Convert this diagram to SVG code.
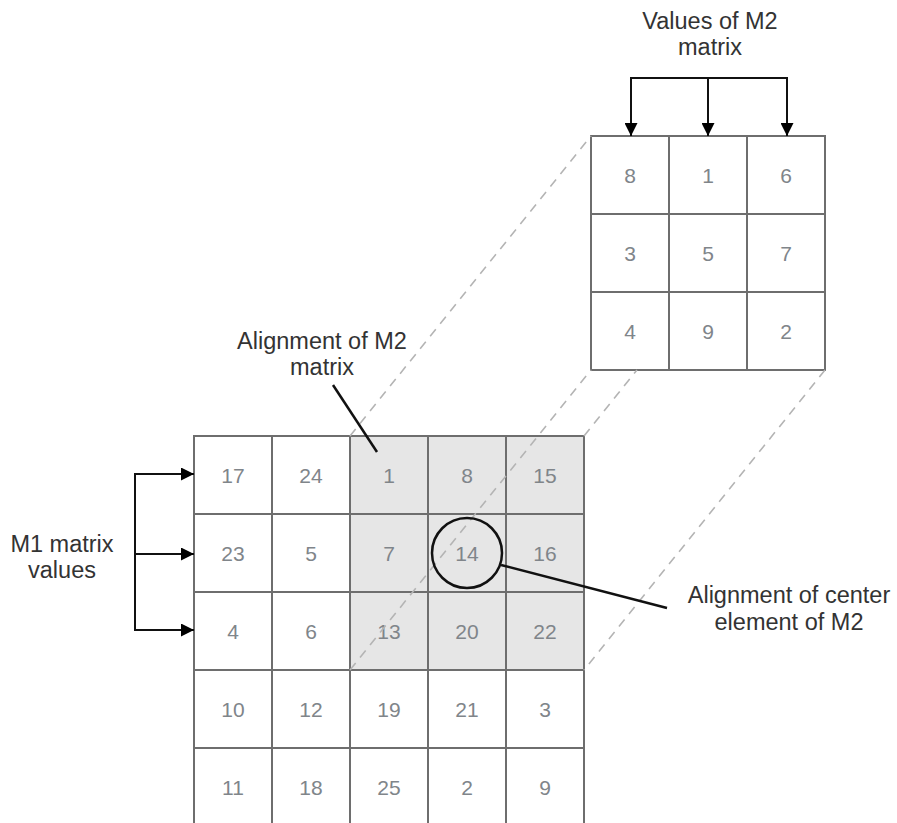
<svg xmlns="http://www.w3.org/2000/svg" width="897" height="823" viewBox="0 0 897 823">
<defs>
<marker id="ah" viewBox="0 0 13 13" refX="13" refY="6.5" markerWidth="13" markerHeight="13" markerUnits="userSpaceOnUse" orient="auto">
<path d="M0,0 L13,6.5 L0,13 Z" fill="#000"/>
</marker>
<style>
.cell{fill:#fff;stroke:#6e6e6e;stroke-width:2}
.sh{fill:#e6e6e6;stroke:#6e6e6e;stroke-width:2}
.num{font-family:"Liberation Sans",Arial,sans-serif;font-size:21px;fill:#80858a;text-anchor:middle}
.lbl{font-family:"Liberation Sans",Arial,sans-serif;font-size:23.5px;fill:#333;text-anchor:middle}
.dash{stroke:#b4b4b4;stroke-width:1.6;stroke-dasharray:9 7;fill:none}
.arr{stroke:#111;stroke-width:2;fill:none}
.ptr{stroke:#111;stroke-width:2.5;fill:none}
</style>
</defs>
<rect width="897" height="823" fill="#fff"/>

<g id="m1">
<g id="m1-r0c0"><rect class="cell" x="194" y="436" width="78" height="78"/><text class="num" x="233" y="483">17</text></g>
<g id="m1-r0c1"><rect class="cell" x="272" y="436" width="78" height="78"/><text class="num" x="311" y="483">24</text></g>
<g id="m1-r0c2"><rect class="sh" x="350" y="436" width="78" height="78"/><text class="num" x="389" y="483">1</text></g>
<g id="m1-r0c3"><rect class="sh" x="428" y="436" width="78" height="78"/><text class="num" x="467" y="483">8</text></g>
<g id="m1-r0c4"><rect class="sh" x="506" y="436" width="78" height="78"/><text class="num" x="545" y="483">15</text></g>
<g id="m1-r1c0"><rect class="cell" x="194" y="514" width="78" height="78"/><text class="num" x="233" y="561">23</text></g>
<g id="m1-r1c1"><rect class="cell" x="272" y="514" width="78" height="78"/><text class="num" x="311" y="561">5</text></g>
<g id="m1-r1c2"><rect class="sh" x="350" y="514" width="78" height="78"/><text class="num" x="389" y="561">7</text></g>
<g id="m1-r1c3"><rect class="sh" x="428" y="514" width="78" height="78"/><text class="num" x="467" y="561">14</text></g>
<g id="m1-r1c4"><rect class="sh" x="506" y="514" width="78" height="78"/><text class="num" x="545" y="561">16</text></g>
<g id="m1-r2c0"><rect class="cell" x="194" y="592" width="78" height="78"/><text class="num" x="233" y="639">4</text></g>
<g id="m1-r2c1"><rect class="cell" x="272" y="592" width="78" height="78"/><text class="num" x="311" y="639">6</text></g>
<g id="m1-r2c2"><rect class="sh" x="350" y="592" width="78" height="78"/><text class="num" x="389" y="639">13</text></g>
<g id="m1-r2c3"><rect class="sh" x="428" y="592" width="78" height="78"/><text class="num" x="467" y="639">20</text></g>
<g id="m1-r2c4"><rect class="sh" x="506" y="592" width="78" height="78"/><text class="num" x="545" y="639">22</text></g>
<g id="m1-r3c0"><rect class="cell" x="194" y="670" width="78" height="78"/><text class="num" x="233" y="717">10</text></g>
<g id="m1-r3c1"><rect class="cell" x="272" y="670" width="78" height="78"/><text class="num" x="311" y="717">12</text></g>
<g id="m1-r3c2"><rect class="cell" x="350" y="670" width="78" height="78"/><text class="num" x="389" y="717">19</text></g>
<g id="m1-r3c3"><rect class="cell" x="428" y="670" width="78" height="78"/><text class="num" x="467" y="717">21</text></g>
<g id="m1-r3c4"><rect class="cell" x="506" y="670" width="78" height="78"/><text class="num" x="545" y="717">3</text></g>
<g id="m1-r4c0"><rect class="cell" x="194" y="748" width="78" height="78"/><text class="num" x="233" y="795">11</text></g>
<g id="m1-r4c1"><rect class="cell" x="272" y="748" width="78" height="78"/><text class="num" x="311" y="795">18</text></g>
<g id="m1-r4c2"><rect class="cell" x="350" y="748" width="78" height="78"/><text class="num" x="389" y="795">25</text></g>
<g id="m1-r4c3"><rect class="cell" x="428" y="748" width="78" height="78"/><text class="num" x="467" y="795">2</text></g>
<g id="m1-r4c4"><rect class="cell" x="506" y="748" width="78" height="78"/><text class="num" x="545" y="795">9</text></g>
</g>

<g id="m2">
<g id="m2-r0c0"><rect class="cell" x="591" y="136" width="78" height="78"/><text class="num" x="630" y="183">8</text></g>
<g id="m2-r0c1"><rect class="cell" x="669" y="136" width="78" height="78"/><text class="num" x="708" y="183">1</text></g>
<g id="m2-r0c2"><rect class="cell" x="747" y="136" width="78" height="78"/><text class="num" x="786" y="183">6</text></g>
<g id="m2-r1c0"><rect class="cell" x="591" y="214" width="78" height="78"/><text class="num" x="630" y="261">3</text></g>
<g id="m2-r1c1"><rect class="cell" x="669" y="214" width="78" height="78"/><text class="num" x="708" y="261">5</text></g>
<g id="m2-r1c2"><rect class="cell" x="747" y="214" width="78" height="78"/><text class="num" x="786" y="261">7</text></g>
<g id="m2-r2c0"><rect class="cell" x="591" y="292" width="78" height="78"/><text class="num" x="630" y="339">4</text></g>
<g id="m2-r2c1"><rect class="cell" x="669" y="292" width="78" height="78"/><text class="num" x="708" y="339">9</text></g>
<g id="m2-r2c2"><rect class="cell" x="747" y="292" width="78" height="78"/><text class="num" x="786" y="339">2</text></g>
</g>

<g id="labels">
<g id="lbl-m2values"><text class="lbl" x="710" y="29">Values of M2</text><text class="lbl" x="710" y="55">matrix</text></g>
<g id="lbl-align"><text class="lbl" x="322" y="349">Alignment of M2</text><text class="lbl" x="322" y="375">matrix</text></g>
<g id="lbl-m1values"><text class="lbl" x="62" y="552">M1 matrix</text><text class="lbl" x="62" y="578">values</text></g>
<g id="lbl-center"><text class="lbl" x="789" y="603">Alignment of center</text><text class="lbl" x="789" y="630">element of M2</text></g>
</g>

<g id="connectors">
<line class="dash" x1="350" y1="436" x2="591" y2="136"/>
<line class="dash" x1="350" y1="670" x2="591" y2="370"/>
<line class="dash" x1="584" y1="436" x2="637" y2="370"/>
<line class="dash" x1="825" y1="370" x2="584" y2="670"/>
<path class="arr" d="M631,78 H787"/>
<path class="arr" d="M631,77 V136" marker-end="url(#ah)"/>
<path class="arr" d="M708,78 V136" marker-end="url(#ah)"/>
<path class="arr" d="M787,77 V136" marker-end="url(#ah)"/>
<path class="arr" d="M135,473 V631"/>
<path class="arr" d="M134,474 H194" marker-end="url(#ah)"/>
<path class="arr" d="M135,554 H194" marker-end="url(#ah)"/>
<path class="arr" d="M134,630 H194" marker-end="url(#ah)"/>
<path class="ptr" d="M333,385 L377,452"/>
<circle class="ptr" cx="467" cy="553" r="35"/>
<path class="ptr" d="M501,565 L667,608"/>
</g>
</svg>
